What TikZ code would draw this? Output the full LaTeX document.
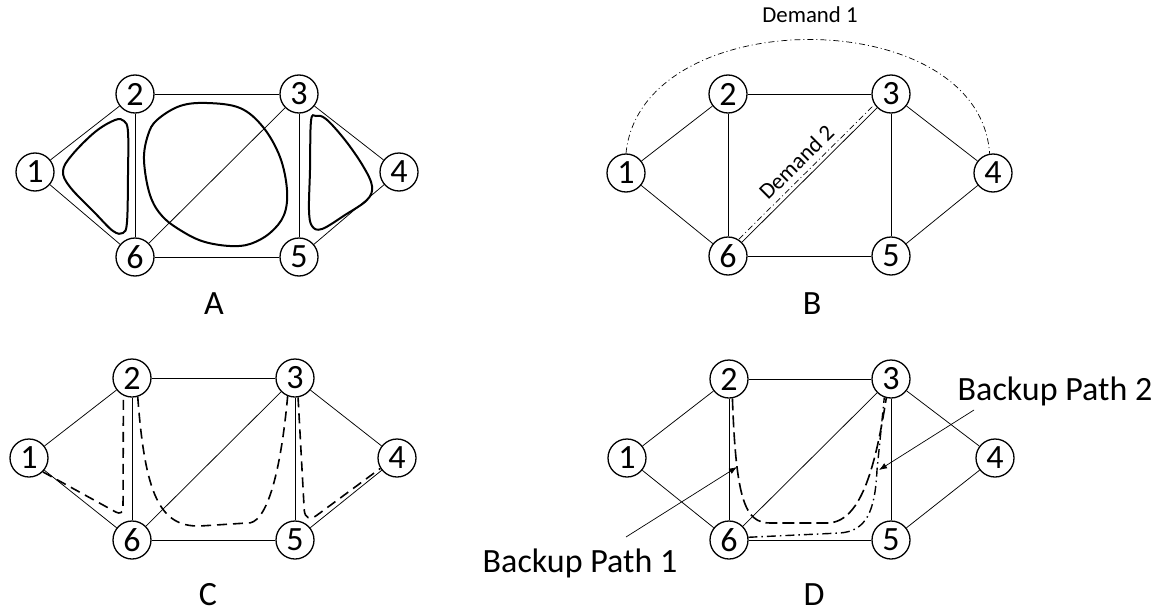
\documentclass[tikz,border=0pt]{standalone}
\usepackage{fontspec}
\setmainfont{Carlito}
\usetikzlibrary{arrows.meta}

\begin{document}
\begin{tikzpicture}[x=1pt,y=-1pt,>={Latex[length=8pt,width=6pt]},node distance=100pt,
    main node/.style={circle,draw,line width=1.3pt,minimum size=38pt,inner sep=0pt,font=\fontsize{34}{38}\selectfont},
    link/.style={line width=0.75pt},
    ring/.style={line width=2pt},
    demand/.style={line width=0.7pt,dash pattern=on 6pt off 3pt on 1pt off 3pt},
    spare/.style={line width=1.6pt,dash pattern=on 10pt off 6pt},
    backup one/.style={line width=1.6pt,dash pattern=on 12pt off 5pt},
    backup two/.style={line width=1.4pt,dash pattern=on 9pt off 4pt on 1.5pt off 4pt},
    pointer/.style={->,line width=0.7pt},
    panel label/.style={anchor=base,font=\fontsize{34}{40}\selectfont},
    note/.style={anchor=base,font=\fontsize{34}{40}\selectfont},
    small note/.style={font=\fontsize{22.8}{26}\selectfont}]

    \useasboundingbox (0,0) rectangle (1167,613);

    % A
    \node[main node] (a1) at (35,172) {1};
    \node[main node] (a2) [right of = a1, yshift=78pt] {2};
    \node[main node] (a6) [right of = a1, yshift=-85pt] {6};
    \node[main node] (a3) [right of = a2, xshift=64pt] {3};
    \node[main node] (a5) [right of = a6, xshift=64pt] {5};
    \node[main node] (a4) [right of = a3, yshift=-78pt] {4};

    \path[link]
        (a1) edge (a2)
        (a1) edge (a6)
        (a2) edge (a3)
        (a2) edge (a6)
        (a3) edge (a6)
        (a3) edge (a4)
        (a3) edge (a5)
        (a4) edge (a5)
        (a6) edge (a5)
    ;

    \draw[ring] plot[smooth cycle, tension=0.6] coordinates {(63,171) (72,155) (95,132) (115,120) (124,121) (128,132) (128,175) (127,222) (123,233) (113,231) (95,213) (70,187)};
    \draw[ring] plot[smooth cycle, tension=0.6] coordinates {(207,103) (240,108) (263,127) (280,157) (287,190) (284,215) (270,233) (250,244) (230,246) (205,242) (185,233) (163,217) (150,195) (144,160) (148,135) (157,120) (180,106)};
    \draw[ring] plot[smooth cycle, tension=0.6] coordinates {(311,121) (316,116) (326,119) (345,140) (363,166) (372,186) (367,200) (345,215) (322,229) (312,226) (309,210) (310,170)};

    \node[panel label] (labA) at (214,314) {A};

    % B
    \node[main node] (b1) at (626,173) {1};
    \node[main node] (b2) [right of = b1, xshift=2pt, yshift=79pt] {2};
    \node[main node] (b6) [right of = b1, xshift=2pt, yshift=-83pt] {6};
    \node[main node] (b3) [right of = b2, xshift=63pt] {3};
    \node[main node] (b5) [right of = b6, xshift=63pt] {5};
    \node[main node] (b4) [right of = b3, xshift=2pt, yshift=-79pt] {4};

    \path[link]
        (b1) edge (b2)
        (b1) edge (b6)
        (b2) edge (b3)
        (b2) edge (b6)
        (b3) edge (b6)
        (b3) edge (b4)
        (b3) edge (b5)
        (b4) edge (b5)
        (b6) edge (b5)
    ;

    \draw[demand] (b1.north) .. controls +(15,-152) and +(-10,-152) .. (b4.100);
    \node[small note, anchor=base] (dem1) at (810,23) {Demand 1};
    \draw[demand] ([shift={(-3,-3)}]b6.45) -- ([shift={(-3,-3)}]b3.225)
        node[small note, midway, sloped, above, inner sep=6pt] {Demand 2};

    \node[panel label] (labB) at (812,314) {B};

    % C
    \node[main node] (c1) at (29,458) {1};
    \node[main node] (c2) [right of = c1, xshift=3pt, yshift=80pt] {2};
    \node[main node] (c6) [right of = c1, xshift=3pt, yshift=-82pt] {6};
    \node[main node] (c3) [right of = c2, xshift=63pt] {3};
    \node[main node] (c5) [right of = c6, xshift=63pt] {5};
    \node[main node] (c4) [right of = c3, xshift=2pt, yshift=-80pt] {4};

    \path[link]
        (c1) edge (c2)
        (c1) edge (c6)
        (c2) edge (c3)
        (c2) edge (c6)
        (c3) edge (c6)
        (c3) edge (c4)
        (c3) edge (c5)
        (c4) edge (c5)
        (c6) edge (c5)
    ;

    \draw[spare, rounded corners=8pt] (c1.-45) -- (123,516) -- (c2.-116);
    \draw[spare] (c2.-73) .. controls (145,495) and (160,527) .. (200,526) -- (247,523)
        .. controls (265,525) and (280,480) .. (c3.-112);
    \draw[spare, rounded corners=14pt] (c3.-81) -- (305,524) -- (c4.-148);

    \node[panel label] (labC) at (208,605) {C};

    % D
    \node[main node] (d1) at (627,458) {1};
    \node[main node] (d2) [right of = d1, xshift=2pt, yshift=79pt] {2};
    \node[main node] (d6) [right of = d1, xshift=2pt, yshift=-82pt] {6};
    \node[main node] (d3) [right of = d2, xshift=62pt] {3};
    \node[main node] (d5) [right of = d6, xshift=62pt] {5};
    \node[main node] (d4) [right of = d3, xshift=4pt, yshift=-79pt] {4};

    \path[link]
        (d1) edge (d2)
        (d1) edge (d6)
        (d2) edge (d3)
        (d2) edge (d6)
        (d3) edge (d6)
        (d3) edge (d4)
        (d3) edge (d5)
        (d4) edge (d5)
        (d6) edge (d5)
    ;

    \draw[backup one] (d2.-80) .. controls (736,500) and (745,523) .. (770,523) -- (827,523)
        .. controls (860,523) and (875,470) .. (d3.-104);
    \draw[backup two] (d6.8) -- (840,533) .. controls (866,531) and (875,512) .. (877,470) -- (d3.-110);

    \node[note] (bp1) at (580,572) {Backup Path 1};
    \node[note] (bp2) at (1055,400) {Backup Path 2};
    \coordinate (tail1) at (626,537);
    \coordinate (tip1) at (737,467);
    \coordinate (tail2) at (974,410);
    \coordinate (tip2) at (879,470);
    \draw[pointer] (tail1) -- (tip1);
    \draw[pointer] (tail2) -- (tip2);

    \node[panel label] (labD) at (814,605) {D};
\end{tikzpicture}
\end{document}
